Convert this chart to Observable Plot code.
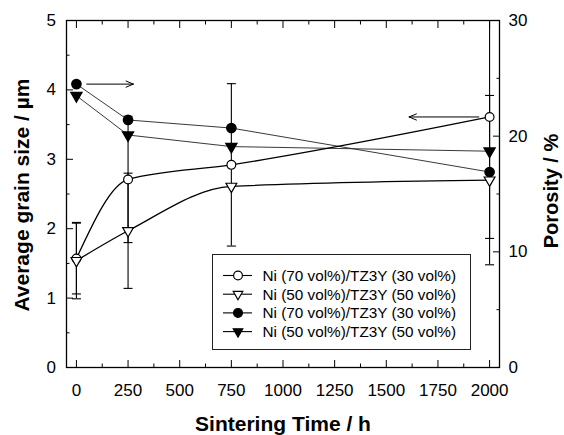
<!DOCTYPE html>
<html><head><meta charset="utf-8">
<script src="https://cdn.jsdelivr.net/npm/d3@7"></script>
<script src="https://cdn.jsdelivr.net/npm/@observablehq/plot@0.6"></script>
<style>
body{margin:0;background:#fff;}
#chart{position:relative;width:564px;height:435px;font-family:"Liberation Sans",Arial,Helvetica,sans-serif;}
#legend{position:absolute;left:212px;top:254px;width:259px;height:96px;border:1px solid #222;background:#fff;box-sizing:border-box;}
#legend svg{position:absolute;left:0;top:0;}
</style></head><body><div id="chart"></div>
<script>
// ---- data ----
const times = [0, 250, 750, 2000];
const grainNi70 = [1.57, 2.71, 2.92, 3.61];      // µm, open circles
const grainNi50 = [1.54, 1.97, 2.61, 2.70];      // µm, open triangles
const errNi70 = [0.51, 0.91, 1.17, 1.75];
const errNi50 = [0.55, 0.83, 0, 1.22];
const porosityNi70 = [24.5, 21.4, 20.7, 16.9];   // %, filled circles
const porosityNi50 = [23.5, 20.1, 19.1, 18.7];   // %, filled triangles
const seriesLabels = ["Ni (70 vol%)/TZ3Y (30 vol%)", "Ni (50 vol%)/TZ3Y (50 vol%)", "Ni (70 vol%)/TZ3Y (30 vol%)", "Ni (50 vol%)/TZ3Y (50 vol%)"];
const xTicks = [0, 250, 500, 750, 1000, 1250, 1500, 1750, 2000];
const xMinor = [125, 375, 625, 875, 1125, 1375, 1625, 1875];
const yTicks = [0, 1, 2, 3, 4, 5];
const yMinor = [0.5, 1.5, 2.5, 3.5, 4.5];
const porosityTicks = [0, 10, 20, 30];
const porosityMinor = [5, 15, 25];
const porosityMax = 30, grainMax = 5;
// annotation arrows (time from, time to)
const arrowRight = {from: 50, to: 276};
const arrowLeft = {from: 1948, to: 1610};

// ---- build ----
const toLeft = p => p * grainMax / porosityMax;
const rows = times.map((t, i) => ({t, g70: grainNi70[i], g50: grainNi50[i], e70: errNi70[i], e50: errNi50[i], p70: porosityNi70[i], p50: porosityNi50[i]}));
const errs = [];
rows.forEach(r => {
  if (r.e70 > 0) errs.push({t: r.t, lo: r.g70 - r.e70, hi: r.g70 + r.e70});
  if (r.e50 > 0) errs.push({t: r.t, lo: r.g50 - r.e50, hi: r.g50 + r.e50});
});
const caps = errs.flatMap(e => [{t: e.t, v: e.lo}, {t: e.t, v: e.hi}]);

const capSymbol = {draw(ctx){ ctx.moveTo(-4.5, 0); ctx.lineTo(4.5, 0); }};
const triDown = {draw(ctx, size){ const a = Math.sqrt(4 * size / Math.sqrt(3)); const h = a * Math.sqrt(3) / 2; ctx.moveTo(0, 2*h/3); ctx.lineTo(a/2, -h/3); ctx.lineTo(-a/2, -h/3); ctx.closePath(); }};

const font = 17;
const chart = Plot.plot({
  width: 564, height: 435,
  marginLeft: 66, marginRight: 65, marginTop: 20, marginBottom: 68,
  style: {fontFamily: '"Liberation Sans", Arial, Helvetica, sans-serif', fontSize: "17px", color: "#000", background: "#fff"},
  x: {domain: [-48, 2048]},
  y: {domain: [0, grainMax]},
  marks: [
    // axes
    Plot.axisX({ticks: xTicks, tickSize: -7, tickPadding: 23, fontSize: font, label: null, tickFormat: d => String(d)}),
    Plot.axisX({ticks: xMinor, tickSize: -3.5, fill: "none", label: null}),
    Plot.axisX({anchor: "top", ticks: xTicks, tickSize: -7, fill: "none", label: null}),
    Plot.axisX({anchor: "top", ticks: xMinor, tickSize: -3.5, fill: "none", label: null}),
    Plot.axisY({ticks: yTicks, tickSize: -7, tickPadding: 17.5, fontSize: font, label: null, tickFormat: d => String(d)}),
    Plot.axisY({ticks: yMinor, tickSize: -3.5, fill: "none", label: null}),
    Plot.axisY({anchor: "right", ticks: porosityTicks.map(toLeft), tickSize: -7, tickPadding: 16, fontSize: font, label: null, tickFormat: d => String(Math.round(d * porosityMax / grainMax))}),
    Plot.axisY({anchor: "right", ticks: porosityMinor.map(toLeft), tickSize: -3.5, fill: "none", label: null}),
    Plot.frame({stroke: "#000", strokeWidth: 1.3}),
    // titles
    Plot.text(["Sintering Time / h"], {text: d => d, frameAnchor: "bottom", dy: 57, fontSize: 21, fontWeight: "bold", lineAnchor: "middle", textAnchor: "middle"}),
    Plot.text(["Average grain size / µm"], {text: d => d, frameAnchor: "left", dx: -44, dy: 1, rotate: -90, fontSize: 21, fontWeight: "bold", lineAnchor: "middle", textAnchor: "middle"}),
    Plot.text(["Porosity / %"], {text: d => d, frameAnchor: "right", dx: 52, dy: -3, rotate: -90, fontSize: 20, fontWeight: "bold", lineAnchor: "middle", textAnchor: "middle"}),
    // lines
    Plot.line(rows, {x: "t", y: d => toLeft(d.p70), stroke: "#222", strokeWidth: 0.9}),
    Plot.line(rows, {x: "t", y: d => toLeft(d.p50), stroke: "#222", strokeWidth: 0.9}),
    Plot.line(rows, {x: "t", y: "g70", curve: "monotone-x", stroke: "#000", strokeWidth: 1.3}),
    Plot.line(rows, {x: "t", y: "g50", curve: "monotone-x", stroke: "#000", strokeWidth: 1.3}),
    // error bars
    Plot.ruleX(errs, {x: "t", y1: "lo", y2: "hi", stroke: "#000", strokeWidth: 1.1, clip: true}),
    Plot.dot(caps, {x: "t", y: "v", symbol: capSymbol, r: 3, stroke: "#000", strokeWidth: 1.1, fill: "none", clip: true}),
    // arrows
    Plot.arrow([arrowRight], {x1: "from", x2: "to", y1: () => toLeft(porosityNi70[0]), y2: () => toLeft(porosityNi70[0]), stroke: "#000", strokeWidth: 1, headLength: 12, headAngle: 45}),
    Plot.arrow([arrowLeft], {x1: "from", x2: "to", y1: () => grainNi70[3], y2: () => grainNi70[3], stroke: "#000", strokeWidth: 1, headLength: 12, headAngle: 45}),
    // markers
    Plot.dot(rows, {x: "t", y: d => toLeft(d.p70), r: 4.6, symbol: "circle", fill: "#000", stroke: "#000"}),
    Plot.dot(rows, {x: "t", y: d => toLeft(d.p50), r: 4, symbol: triDown, fill: "#000", stroke: "#000"}),
    Plot.dot(rows, {x: "t", y: "g70", r: 4.4, symbol: "circle", fill: "#fff", stroke: "#000", strokeWidth: 1.2}),
    Plot.dot(rows, {x: "t", y: "g50", r: 4, symbol: triDown, fill: "#fff", stroke: "#000", strokeWidth: 1.2})
  ]
});
const holder = document.getElementById("chart");
holder.appendChild(chart);

// legend
const leg = document.createElement("div");
leg.id = "legend";
const ns = "http://www.w3.org/2000/svg";
const svg = document.createElementNS(ns, "svg");
svg.setAttribute("width", 259); svg.setAttribute("height", 96);
const styles = [
  {shape: "circle", fill: "#fff"},
  {shape: "tri", fill: "#fff"},
  {shape: "circle", fill: "#000"},
  {shape: "tri", fill: "#000"}
];
seriesLabels.forEach((lab, i) => {
  const y = 20.5 + i * 18.7;
  const g = document.createElementNS(ns, "g");
  const ln = document.createElementNS(ns, "line");
  ln.setAttribute("x1", 10); ln.setAttribute("x2", 39); ln.setAttribute("y1", y); ln.setAttribute("y2", y);
  ln.setAttribute("stroke", "#000"); ln.setAttribute("stroke-width", 1.1);
  g.appendChild(ln);
  let m;
  if (styles[i].shape === "circle") {
    m = document.createElementNS(ns, "circle");
    m.setAttribute("cx", 25); m.setAttribute("cy", y); m.setAttribute("r", 4.4);
  } else {
    m = document.createElementNS(ns, "path");
    const a = 9.5, h = a * Math.sqrt(3) / 2;
    m.setAttribute("d", `M25,${y + 2*h/3}L${25 + a/2},${y - h/3}L${25 - a/2},${y - h/3}Z`);
  }
  m.setAttribute("fill", styles[i].fill); m.setAttribute("stroke", "#000"); m.setAttribute("stroke-width", 1.2);
  g.appendChild(m);
  const tx = document.createElementNS(ns, "text");
  tx.setAttribute("x", 49.5); tx.setAttribute("y", y + 5.3);
  tx.setAttribute("font-size", 15.3);
  tx.setAttribute("font-family", '"Liberation Sans", Arial, Helvetica, sans-serif');
  tx.textContent = lab;
  g.appendChild(tx);
  svg.appendChild(g);
});
leg.appendChild(svg);
holder.appendChild(leg);
</script>
</body></html>
